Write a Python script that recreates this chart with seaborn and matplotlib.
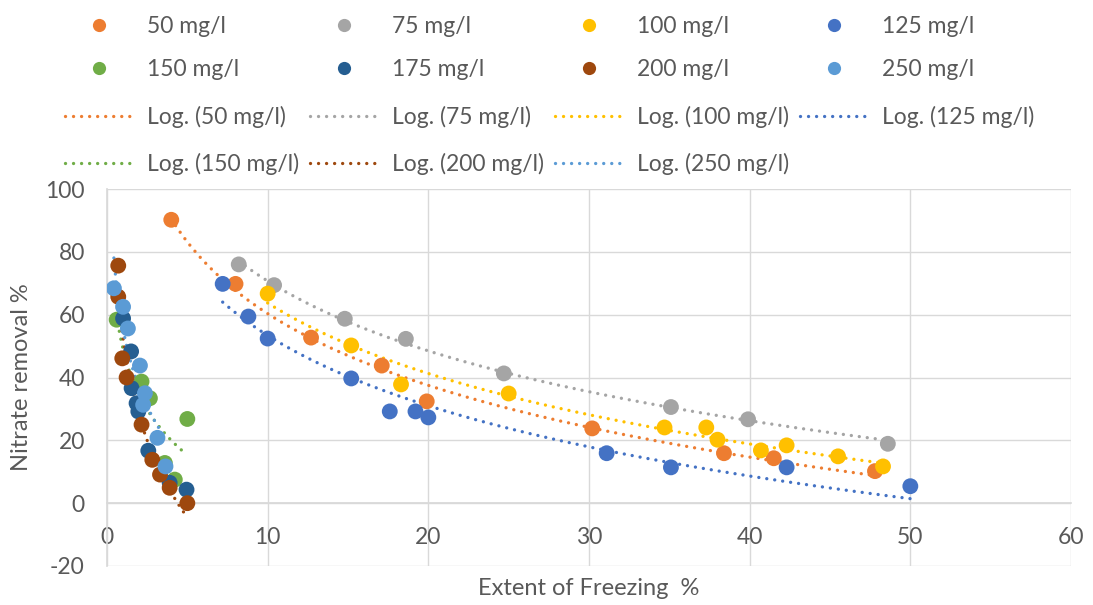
import numpy as np
import pandas as pd
import matplotlib
matplotlib.use("Agg")
import matplotlib.pyplot as plt
import seaborn as sns
from matplotlib.lines import Line2D

# ---------------- data ----------------
x_50 = [4.0, 8.0, 12.7, 17.1, 19.9, 30.2, 38.4, 41.5, 47.8]
y_50 = [90.2, 69.8, 52.7, 43.8, 32.4, 23.8, 15.9, 14.3, 10.2]

x_75 = [8.2, 10.4, 14.8, 18.6, 24.7, 35.1, 39.9, 48.6]
y_75 = [76.0, 69.4, 58.7, 52.3, 41.3, 30.6, 26.7, 18.9]

x_100 = [10.0, 15.2, 18.3, 25.0, 34.7, 37.3, 38.0, 40.7, 42.3, 45.5, 48.3]
y_100 = [66.7, 50.2, 37.8, 34.9, 24.1, 24.1, 20.2, 16.8, 18.4, 14.9, 11.7]

x_125 = [7.2, 8.8, 10.0, 15.2, 17.6, 19.2, 20.0, 31.1, 35.1, 42.3, 50.0]
y_125 = [69.8, 59.4, 52.4, 39.7, 29.2, 29.2, 27.3, 15.9, 11.4, 11.4, 5.4]

x_150 = [0.6, 2.15, 2.67, 3.6, 4.22, 5.0]
y_150 = [58.4, 38.7, 33.4, 12.8, 7.5, 26.8]

x_175 = [1.0, 1.5, 1.53, 1.84, 1.95, 2.57, 3.9, 4.95]
y_175 = [58.8, 48.3, 36.6, 31.8, 29.2, 16.7, 6.5, 4.3]

x_200 = [0.7, 0.7, 0.95, 1.22, 2.15, 2.82, 3.3, 3.9, 5.0]
y_200 = [75.6, 65.7, 46.1, 40.0, 25.0, 13.8, 9.1, 4.9, 0.0]

x_250 = [0.43, 1.0, 1.3, 2.05, 2.36, 2.25, 3.14, 3.64]
y_250 = [68.4, 62.5, 55.6, 43.8, 35.0, 31.3, 20.8, 11.7]

series_names = ["50 mg/l", "75 mg/l", "100 mg/l", "125 mg/l",
                "150 mg/l", "175 mg/l", "200 mg/l", "250 mg/l"]
series_x = [x_50, x_75, x_100, x_125, x_150, x_175, x_200, x_250]
series_y = [y_50, y_75, y_100, y_125, y_150, y_175, y_200, y_250]
trend_names = ["50 mg/l", "75 mg/l", "100 mg/l", "125 mg/l",
               "150 mg/l", "200 mg/l", "250 mg/l"]

x_ticks = [0, 10, 20, 30, 40, 50, 60]
y_ticks = [-20, 0, 20, 40, 60, 80, 100]

colors = {"50 mg/l": "#ED7D31", "75 mg/l": "#A5A5A5", "100 mg/l": "#FFC000",
          "125 mg/l": "#4472C4", "150 mg/l": "#70AD47", "175 mg/l": "#255E91",
          "200 mg/l": "#9E480E", "250 mg/l": "#5B9BD5"}

# ---------------- styling ----------------
sns.set_theme(style="white")
plt.rcParams["font.family"] = ["Lato", "DejaVu Sans"]
plt.rcParams["axes.unicode_minus"] = False
TXT = "#595959"
GRID = "#D9D9D9"
FS = 16.5

df = pd.concat([pd.DataFrame({"x": xs, "y": ys, "series": n})
                for n, xs, ys in zip(series_names, series_x, series_y)],
               ignore_index=True)

fig = plt.figure(figsize=(10.93, 6.05), dpi=100)
W, H = 1093, 605
ax = fig.add_axes([107 / W, (H - 566) / H, (1071 - 107) / W, (566 - 189) / H])

ax.set_xlim(0, 60)
ax.set_ylim(-20, 100)
ax.set_xticks(x_ticks)
ax.set_yticks(y_ticks)
ax.grid(True, color=GRID, linewidth=1.0)
ax.set_axisbelow(True)

# trendlines (logarithmic fit, like Excel "Log." trendlines)
LW = 2.4
dot = (0, (0.01, 2.4))
for n in trend_names:
    i = series_names.index(n)
    xs = np.array(series_x[i], dtype=float)
    ys = np.array(series_y[i], dtype=float)
    a, b = np.polyfit(np.log(xs), ys, 1)
    xx = np.linspace(xs.min(), xs.max(), 200)
    sns.lineplot(x=xx, y=a * np.log(xx) + b, color=colors[n], ax=ax,
                 linewidth=LW, linestyle=dot, dash_capstyle="round",
                 legend=False, zorder=2)

sns.scatterplot(data=df, x="x", y="y", hue="series", hue_order=series_names,
                palette=colors, s=130, edgecolor="none", linewidth=0,
                ax=ax, legend=False, zorder=3)

for s in ["top", "right"]:
    ax.spines[s].set_visible(False)
ax.spines["left"].set_color(GRID)
ax.spines["bottom"].set_color(GRID)
ax.spines["bottom"].set_position(("data", 0))
ax.tick_params(axis="both", length=0, labelsize=FS, labelcolor=TXT)
ax.tick_params(axis="x", pad=17)
ax.tick_params(axis="y", pad=16)

ax.set_xlabel("Extent of Freezing  %", fontsize=17, color=TXT)
ax.set_ylabel("Nitrate removal %", fontsize=17, color=TXT)
ax.xaxis.set_label_coords(0.5, -0.032)
ax.yaxis.set_label_coords(-0.078, 0.5)

# ---------------- legends ----------------
fig.canvas.draw()
renderer = fig.canvas.get_renderer()
fs_px = FS * 100 / 72.0


def text_w(s):
    t = fig.text(0, 0, s, fontsize=FS)
    w = t.get_window_extent(renderer).width
    t.remove()
    return w


pitch = 245.0
hlen_px = 68.0
htp_px = 14.0
hl = hlen_px / fs_px
htp = htp_px / fs_px

# marker legend (order arranged so that columns fill row-major)
m_order = [0, 4, 1, 5, 2, 6, 3, 7]
m_handles = [Line2D([], [], linestyle="none", marker="o", markersize=9.5,
                    markerfacecolor=colors[series_names[k]],
                    markeredgecolor="none") for k in m_order]
m_labels = [series_names[k] for k in m_order]
mw = max(text_w(l) for l in m_labels)
cs_m = (pitch - hlen_px - htp_px - mw) / fs_px
leg1 = fig.legend(m_handles, m_labels, ncol=4, loc="upper left",
                  bbox_to_anchor=(65 / W, 1 - 16 / H), frameon=False,
                  fontsize=FS, handlelength=hl, handletextpad=htp,
                  columnspacing=cs_m, labelspacing=0.95, borderpad=0,
                  borderaxespad=0, labelcolor=TXT, numpoints=1)

t_order = [0, 4, 1, 5, 2, 6, 3]
t_handles = [Line2D([], [], color=colors[trend_names[k]], linewidth=LW,
                    linestyle=dot, dash_capstyle="round") for k in t_order]
t_labels = ["Log. (" + trend_names[k] + ")" for k in t_order]
tw = max(text_w(l) for l in t_labels)
cs_t = (pitch - hlen_px - htp_px - tw) / fs_px
leg2 = fig.legend(t_handles, t_labels, ncol=4, loc="upper left",
                  bbox_to_anchor=(65 / W, 1 - 106 / H), frameon=False,
                  fontsize=FS, handlelength=hl, handletextpad=htp,
                  columnspacing=cs_t, labelspacing=1.07, borderpad=0,
                  borderaxespad=0, labelcolor=TXT)

fig.savefig("out.png", dpi=100)
